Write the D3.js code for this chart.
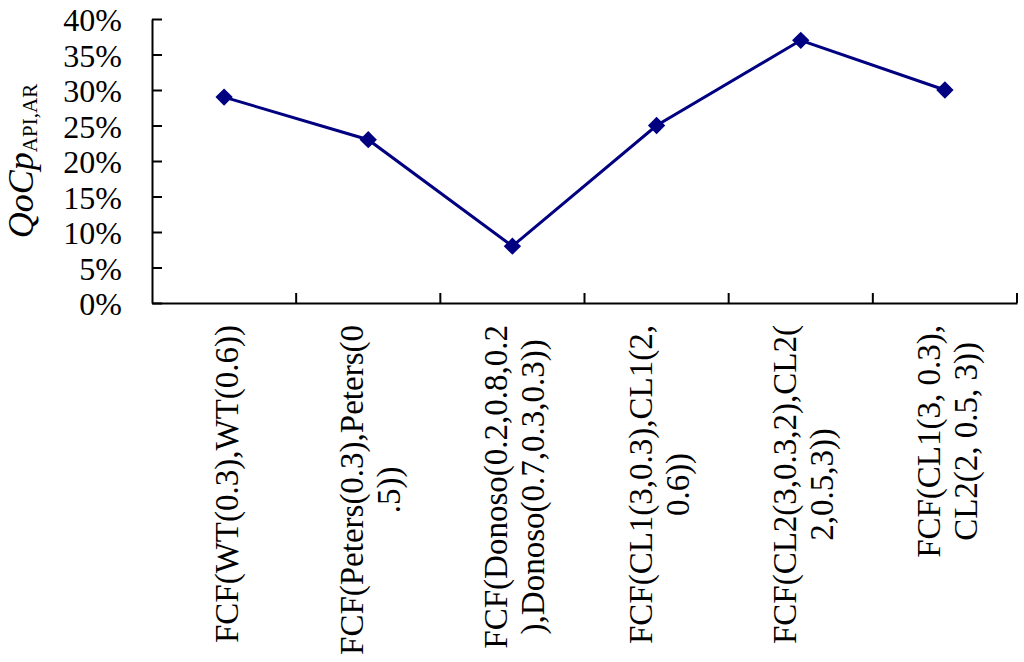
<!DOCTYPE html>
<html>
<head>
<meta charset="utf-8">
<script src="https://cdn.jsdelivr.net/npm/d3@7"></script>
<style>
  body { margin: 0; background: #fff; }
</style>
</head>
<body>
<svg width="1024" height="662"></svg>
<script>
// chart data
const categories = [
  ["FCF(WT(0.3),WT(0.6))"],
  ["FCF(Peters(0.3),Peters(0", ".5))"],
  ["FCF(Donoso(0.2,0.8,0.2", "),Donoso(0.7,0.3,0.3))"],
  ["FCF(CL1(3,0.3),CL1(2,", "0.6))"],
  ["FCF(CL2(3,0.3,2),CL2(", "2,0.5,3))"],
  ["FCF(CL1(3, 0.3),", "CL2(2, 0.5, 3))"]
];
const values = [0.29, 0.23, 0.08, 0.25, 0.37, 0.30];
const y_ticks = [0, 0.05, 0.10, 0.15, 0.20, 0.25, 0.30, 0.35, 0.40];

const svg = d3.select("svg");
const serif = "'Liberation Serif', 'DejaVu Serif', serif";
const plot_left = 152, plot_right = 1017, plot_top = 19, plot_bottom = 303;
const line_color = "#000080";

const x = d3.scaleBand()
  .domain(d3.range(categories.length))
  .range([plot_left, plot_right])
  .padding(0);

const y = d3.scaleLinear()
  .domain([0, 0.4])
  .range([plot_bottom, plot_top]);

// y axis, ticks pointing inside
const y_axis = svg.append("g")
  .attr("transform", `translate(${plot_left},0)`)
  .call(d3.axisLeft(y)
    .tickValues(y_ticks)
    .tickFormat(d3.format(".0%"))
    .tickSizeInner(-10)
    .tickSizeOuter(0)
    .tickPadding(30));
y_axis.attr("font-family", serif).attr("font-size", 32);
y_axis.select(".domain").attr("stroke", "#000").attr("stroke-width", 2);
y_axis.selectAll(".tick line").attr("stroke", "#000").attr("stroke-width", 2);
y_axis.selectAll(".tick text")
  .attr("fill", "#000")
  .attr("dy", "0.36em");

// x axis with ticks at category boundaries
const x_axis = svg.append("g")
  .attr("transform", `translate(0,${plot_bottom})`)
  .call(d3.axisBottom(x).tickValues([]).tickSizeOuter(0));
x_axis.select(".domain").attr("stroke", "#000").attr("stroke-width", 2);
x_axis.selectAll("line.boundary")
  .data(d3.range(categories.length))
  .enter()
  .append("line")
  .attr("class", "boundary")
  .attr("x1", function(d){return x(d) + x.bandwidth()})
  .attr("x2", function(d){return x(d) + x.bandwidth()})
  .attr("y1", 0)
  .attr("y2", -10)
  .attr("stroke", "#000")
  .attr("stroke-width", 2);

// category labels, rotated
const label_top = plot_bottom + 22;
const line_height = 37;
const label_groups = svg.selectAll("g.cat")
  .data(categories)
  .enter()
  .append("g")
  .attr("class", "cat");

label_groups.each(function(lines, i){
  const g = d3.select(this);
  const text = g.append("text")
    .attr("text-anchor", "middle")
    .attr("font-family", serif)
    .attr("font-size", 33);
  lines.forEach(function(l, j){
    text.append("tspan")
      .attr("x", 0)
      .attr("y", (j - (lines.length - 1) / 2) * line_height)
      .attr("dy", "0.35em")
      .text(l);
  });
  let max_len = 0;
  text.selectAll("tspan").each(function(){
    max_len = Math.max(max_len, this.getComputedTextLength());
  });
  const cx = x(i) + x.bandwidth() / 2 + 2;
  g.attr("transform", `translate(${cx},${label_top + max_len / 2}) rotate(-90)`);
});

// y axis title
const title = svg.append("text")
  .attr("transform", `translate(33,${(plot_top + plot_bottom) / 2}) rotate(-90)`)
  .attr("text-anchor", "middle")
  .attr("font-family", serif);
title.append("tspan")
  .attr("font-size", 36)
  .attr("font-style", "italic")
  .text("QoCp");
title.append("tspan")
  .attr("font-size", 21)
  .attr("dy", "0.2em")
  .text("API,AR");

// series line
const line = d3.line()
  .x(function(d, i){return x(i) + x.bandwidth() / 2})
  .y(function(d){return y(d)});

svg.append("path")
  .datum(values)
  .attr("d", line)
  .attr("fill", "none")
  .attr("stroke", line_color)
  .attr("stroke-width", 3);

svg.selectAll("path.marker")
  .data(values)
  .enter()
  .append("path")
  .attr("class", "marker")
  .attr("d", d3.symbol(d3.symbolSquare, 150))
  .attr("transform", function(d, i){
    return `translate(${x(i) + x.bandwidth() / 2},${y(d)}) rotate(45)`;
  })
  .attr("fill", line_color);
</script>
</body>
</html>
